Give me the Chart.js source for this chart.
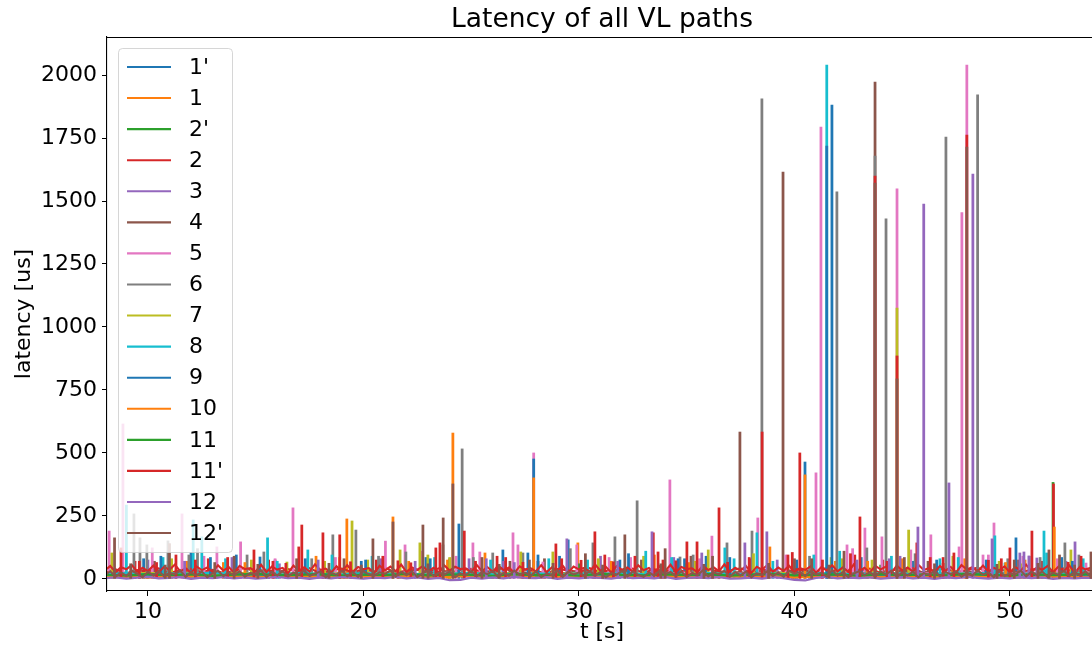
<!DOCTYPE html>
<html>
<head>
<meta charset="utf-8">
<title>Latency of all VL paths</title>
<script src="https://cdn.jsdelivr.net/npm/chart.js@4.4.1/dist/chart.umd.min.js"></script>
<style>
  html, body { margin: 0; padding: 0; background: #ffffff; overflow: hidden; }
  #wrap { width: 1100px; height: 646px; }
</style>
</head>
<body>
<div id="wrap"><canvas id="latencyChart" width="1100" height="646"></canvas></div>
<script>
// sample instants: 1 s, 0.5 s and 0.25 s baselines
const tSlow = [8, 9, 10, 11, 12, 13, 14, 15, 16, 17, 18, 19, 20, 21, 22, 23, 24, 25, 26, 27,
  28, 29, 30, 31, 32, 33, 34, 35, 36, 37, 38, 39, 40, 41, 42, 43, 44, 45, 46, 47,
  48, 49, 50, 51, 52, 53, 54];
const tFast = [8, 8.5, 9, 9.5, 10, 10.5, 11, 11.5, 12, 12.5, 13, 13.5, 14, 14.5, 15, 15.5,
  16, 16.5, 17, 17.5, 18, 18.5, 19, 19.5, 20, 20.5, 21, 21.5, 22, 22.5, 23, 23.5,
  24, 24.5, 25, 25.5, 26, 26.5, 27, 27.5, 28, 28.5, 29, 29.5, 30, 30.5, 31, 31.5,
  32, 32.5, 33, 33.5, 34, 34.5, 35, 35.5, 36, 36.5, 37, 37.5, 38, 38.5, 39, 39.5,
  40, 40.5, 41, 41.5, 42, 42.5, 43, 43.5, 44, 44.5, 45, 45.5, 46, 46.5, 47, 47.5,
  48, 48.5, 49, 49.5, 50, 50.5, 51, 51.5, 52, 52.5, 53, 53.5, 54];
const tDense = [8, 8.25, 8.5, 8.75, 9, 9.25, 9.5, 9.75, 10, 10.25, 10.5, 10.75, 11, 11.25, 11.5, 11.75,
  12, 12.25, 12.5, 12.75, 13, 13.25, 13.5, 13.75, 14, 14.25, 14.5, 14.75, 15, 15.25, 15.5, 15.75,
  16, 16.25, 16.5, 16.75, 17, 17.25, 17.5, 17.75, 18, 18.25, 18.5, 18.75, 19, 19.25, 19.5, 19.75,
  20, 20.25, 20.5, 20.75, 21, 21.25, 21.5, 21.75, 22, 22.25, 22.5, 22.75, 23, 23.25, 23.5, 23.75,
  24, 24.25, 24.5, 24.75, 25, 25.25, 25.5, 25.75, 26, 26.25, 26.5, 26.75, 27, 27.25, 27.5, 27.75,
  28, 28.25, 28.5, 28.75, 29, 29.25, 29.5, 29.75, 30, 30.25, 30.5, 30.75, 31, 31.25, 31.5, 31.75,
  32, 32.25, 32.5, 32.75, 33, 33.25, 33.5, 33.75, 34, 34.25, 34.5, 34.75, 35, 35.25, 35.5, 35.75,
  36, 36.25, 36.5, 36.75, 37, 37.25, 37.5, 37.75, 38, 38.25, 38.5, 38.75, 39, 39.25, 39.5, 39.75,
  40, 40.25, 40.5, 40.75, 41, 41.25, 41.5, 41.75, 42, 42.25, 42.5, 42.75, 43, 43.25, 43.5, 43.75,
  44, 44.25, 44.5, 44.75, 45, 45.25, 45.5, 45.75, 46, 46.25, 46.5, 46.75, 47, 47.25, 47.5, 47.75,
  48, 48.25, 48.5, 48.75, 49, 49.25, 49.5, 49.75, 50, 50.25, 50.5, 50.75, 51, 51.25, 51.5, 51.75,
  52, 52.25, 52.5, 52.75, 53, 53.25, 53.5, 53.75, 54];

const xTickValues = [10, 20, 30, 40, 50];
const yTickValues = [0, 250, 500, 750, 1000, 1250, 1500, 1750, 2000];

// baseline latency (us) of every path
const base1p = [18, 22, 15, 20, 24, 17, 21, 19, 23, 16, 20, 25, 18, 22, 17, 21, 19, 24, 16, 20,
  23, 18, 21, 17, 22, 19, 25, 16, 20, 18, 23, 21, 17, 24, 19, 22, 16, 20, 25, 18, 21, 17, 23, 19, 22, 20, 18];
const base1 = [8, 6, 10, 7, 9, 12, 15, 11, 14, 10, 13, 16, 12, 15, 11, 14, 17, 13, 12, 15,
  11, 14, 16, 12, 15, 13, 11, 14, 17, 12, 15, 13, 16, 11, 14, 12, 15, 13, 16, 12, 14, 11, 15, 13, 16, 12, 14];
const base2p = [14, 17, 12, 16, 19, 13, 15, 18, 12, 16, 14, 19, 13, 17, 15, 12, 18, 14, 16, 13,
  17, 15, 12, 18, 14, 16, 13, 19, 15, 12, 17, 14, 16, 13, 18, 15, 12, 17, 14, 16, 13, 18, 15, 12, 17, 14, 16];
const base2 = [26, 38, 22, 35, 29, 42, 24, 33, 40, 27, 36, 23, 31, 44, 28, 37, 25, 39, 30, 43,
  22, 34, 41, 26, 38, 29, 45, 24, 33, 36, 27, 42, 23, 35, 40, 28, 31, 44, 25, 37,
  30, 22, 39, 34, 27, 43, 26, 36, 32, 41, 24, 38, 29, 45, 23, 35, 40, 27, 33, 42,
  25, 37, 30, 22, 39, 34, 28, 44, 26, 36, 31, 41, 24, 38, 29, 43, 23, 35, 40, 27,
  33, 45, 25, 37, 30, 22, 39, 34, 28, 42, 26, 36, 31];
const base3 = [9, 6, 11, 8, 12, 7, 10, 13, 8, 11, 6, 9, 12, 7, 10, 8, 13, 9, 6, 11,
  8, 12, 7, 10, 9, 13, 6, 11, 8, 12, 7, 10, 9, 6, 12, 8, 11, 7, 13, 9, 10, 6, 12, 8, 11, 9, 7];
const base4 = [18, 30, 12, 26, 21, 34, 15, 28, 23, 11, 32, 19, 25, 14, 29, 22, 35, 17, 27, 13,
  31, 20, 24, 16, 33, 12, 28, 21, 26, 15, 30, 18, 34, 13, 25, 22, 29, 16, 32, 19,
  23, 11, 27, 20, 35, 14, 26, 18, 31, 24, 12, 29, 21, 33, 17, 25, 15, 30, 22, 28,
  13, 34, 19, 26, 16, 31, 23, 11, 27, 20, 32, 14, 25, 18, 35, 21, 29, 12, 24, 17,
  30, 22, 26, 15, 33, 19, 28, 13, 31, 23, 16, 27, 20];
const base5 = [20, 16, 23, 18, 21, 25, 17, 22, 19, 24, 16, 21, 18, 23, 20, 17, 25, 19, 22, 18,
  24, 16, 21, 19, 23, 17, 20, 25, 18, 22, 19, 23, 17, 21, 24, 18, 20, 16, 22, 19, 23, 17, 21, 25, 18, 20, 22];
const base6 = [17, 21, 14, 19, 23, 16, 20, 15, 22, 18, 14, 20, 17, 23, 15, 19, 21, 16, 24, 18,
  15, 22, 17, 20, 14, 19, 23, 16, 21, 18, 20, 15, 22, 17, 19, 24, 16, 21, 15, 18, 22, 17, 20, 14, 19, 21, 17];
const base7 = [21, 18, 24, 19, 22, 17, 25, 20, 18, 23, 19, 22, 17, 24, 20, 18, 21, 25, 19, 23,
  17, 20, 22, 18, 24, 19, 21, 17, 23, 20, 18, 25, 21, 19, 22, 17, 24, 20, 18, 23, 19, 21, 17, 22, 20, 24, 18];
const base8 = [19, 23, 17, 22, 20, 25, 18, 21, 16, 24, 20, 18, 23, 19, 22, 17, 21, 24, 18, 20,
  23, 16, 22, 19, 25, 18, 21, 17, 23, 20, 19, 22, 16, 24, 20, 18, 23, 21, 17, 22, 20, 24, 18, 21, 19, 23, 17];
const base9 = [15, 12, 18, 14, 17, 11, 16, 19, 13, 15, 18, 12, 16, 14, 19, 13, 17, 15, 11, 18,
  14, 16, 12, 19, 15, 13, 17, 14, 18, 12, 16, 19, 13, 15, 17, 11, 18, 14, 16, 13, 19, 15, 12, 17, 14, 16, 18];
const base10 = [6, 9, 5, 8, 11, 7, 10, 6, 9, 12, 8, 5, 10, 7, 11, 6, 9, 12, 7, 10,
  5, 8, 11, 6, 9, 7, 12, 8, 5, 10, 7, 11, 6, 9, 8, 10, 7, 9, 6, 8, 10, 7, 9, 5, 11, 8, 6];
const base11 = [16, 13, 19, 15, 18, 12, 17, 20, 14, 16, 19, 13, 17, 15, 20, 14, 18, 16, 12, 19,
  15, 17, 13, 20, 16, 14, 18, 15, 19, 13, 17, 20, 14, 16, 18, 12, 19, 15, 17, 14, 20, 16, 13, 18, 15, 17, 19];
const base11p = [34, 51, 27, 46, 38, 55, 29, 44, 31, 53, 26, 48, 36, 57, 30, 42, 24, 50, 35, 45,
  28, 54, 33, 47, 25, 52, 39, 43, 30, 56, 27, 49, 37, 44, 23, 53, 32, 46, 29, 58,
  35, 41, 26, 50, 31, 55, 28, 47, 38, 43, 24, 52, 34, 49, 30, 57, 27, 45, 36, 51,
  29, 44, 25, 54, 33, 48, 39, 42, 26, 56, 31, 47, 28, 53, 35, 45, 24, 50, 37, 43,
  30, 55, 27, 46, 33, 52, 25, 49, 38, 44, 28, 57, 32, 48, 26, 51, 36, 45, 29, 54,
  34, 43, 25, 50, 31, 56, 27, 47, 39, 42, 26, 53, 35, 46, 30, 58, 28, 44, 33, 51,
  24, 48, 37, 55, 29, 45, 32, 52, 27, 43, 36, 50, 25, 47, 34, 54, 30, 46, 28, 57,
  31, 44, 26, 52, 38, 49, 24, 53, 33, 45, 29, 56, 35, 43, 27, 51, 32, 48, 25, 55,
  37, 46, 30, 53, 28, 44, 34, 50, 26, 47, 33, 57, 29, 45, 36, 52, 27, 49, 31, 54,
  25, 48, 38, 44, 30];
const base12 = [3, 6, 1, 5, 8, 2, 4, 7, 0, 5, 3, 7, 2, 6, 1, 4, 8, 3, 5, 0,
  6, 2, 7, 4, 1, 5, 3, 8, 2, 6, 0, 4, -5, -4, 5, 1, 6, 2, 8, 4,
  3, 7, 0, 5, 2, 6, 4, 1, 7, 3, 5, 2, 8, 0, 4, 6, 3, 7, 1, 2,
  5, 1, 7, 3, -4, -6, 4, 8, 2, 5, 3, 6, 1, 4, 7, 2, 5, 0, 6, 3,
  8, 4, 1, 5, 2, 7, 3, 6, 0, 4, 2, 5, 3];
const base12p = [16, 30, 9, 25, 12, 33, 20, 7, 28, 14, 31, 10, 24, 18, 34, 8, 27, 13, 29, 6,
  22, 32, 11, 26, 15, 30, 9, 23, 19, 33, 7, 28, 14, 31, 10, 25, 17, 34, 12, 21,
  29, 6, 24, 16, 32, 11, 27, 8, 30, 18, 13, 26, 20, 33, 9, 28, 15, 31, 7, 23,
  34, 12, 25, 17, 29, 6, 22, 14, 32, 10, 27, 19, 31, 8, 24, 13, 33, 16, 26, 11,
  30, 7, 21, 15, 34, 9, 28, 18, 25, 12, 32, 14, 27, 6, 23, 17, 31, 10, 29, 16,
  8, 25, 13, 33, 19, 28, 11, 30, 7, 24, 15, 34, 10, 26, 18, 32, 9, 27, 14, 29,
  6, 22, 16, 31, 12, 25, 8, 33, 20, 28, 11, 30, 17, 24, 9, 34, 13, 27, 7, 21,
  31, 15, 26, 10, 29, 18, 33, 8, 25, 14, 28, 6, 23, 16, 32, 11, 27, 19, 30, 9,
  24, 13, 34, 17, 26, 7, 31, 12, 22, 18, 33, 10, 28, 15, 29, 8, 25, 16, 32, 11,
  27, 14, 30, 9, 21];

// latency peaks [t (s), latency (us)] of every path
const spikes1p = [[9.8, 80], [12.0, 105], [14.1, 95], [15.2, 87], [19.9, 70], [22.9, 85],
  [26.47, 115], [29.5, 155], [31.9, 75], [34.9, 80], [35.9, 90], [40.1, 75], [45.5, 70],
  [50.28, 163], [52.4, 85]];
const spikes1 = [[11.8, 70], [13.5, 65], [17.8, 90], [19.23, 238], [21.37, 246], [23.9, 75],
  [25.64, 103], [29.95, 143], [33.5, 95], [38.86, 127], [41.9, 70], [45.0, 80], [47.9, 80],
  [50.7, 75]];
const spikes2p = [[30.0, 60], [44.0, 55], [52.0, 383]];
const spikes2 = [[9.4, 70], [12.8, 80], [15.6, 75], [17.0, 127], [20.6, 75], [24.0, 80],
  [26.2, 90], [28.1, 70], [31.2, 95], [33.9, 75], [36.5, 282], [38.0, 80], [39.9, 105],
  [42.8, 95], [44.1, 75], [46.9, 85], [51.5, 70], [52.02, 377]];
const spikes3 = [[10.0, 75], [13.9, 85], [16.1, 60], [20.8, 80], [24.9, 80], [26.5, 70],
  [31.0, 90], [34.4, 85], [39.2, 75], [44.9, 90], [52.6, 70]];
const spikes4 = [[10.3, 70], [15.9, 75], [19.1, 80], [26.8, 70], [28.4, 80], [32.9, 75],
  [35.2, 90], [37.47, 583], [39.47, 1615], [40.0, 80], [43.74, 1972], [46.2, 70], [50.4, 75]];
const spikes5 = [[8.2, 190], [8.84, 615], [10.2, 123], [11.58, 258], [12.6, 90], [13.2, 127],
  [14.3, 147], [15.9, 80], [16.73, 282], [18.7, 85], [21.02, 150], [21.93, 135], [22.7, 110],
  [24.3, 90], [25.08, 143], [25.4, 107], [26.94, 183], [27.17, 135], [27.9, 500], [28.33, 67],
  [29.9, 135], [31.4, 85], [32.4, 85], [34.22, 393], [35.6, 80], [36.17, 170], [38.3, 242],
  [39.6, 95], [41.0, 421], [41.23, 1793], [42.44, 135], [42.7, 120], [43.27, 202],
  [44.06, 167], [44.76, 1548], [45.4, 115], [46.33, 175], [47.64, 127], [47.77, 1454],
  [48.0, 2040], [48.75, 95], [49.0, 95], [49.26, 222], [50.6, 90], [52.2, 80], [53.53, 63]];
const spikes6 = [[9.35, 258], [9.63, 163], [9.95, 135], [10.93, 151], [11.9, 95], [12.3, 120],
  [14.6, 95], [15.38, 107], [17.6, 80], [18.58, 175], [19.65, 194], [20.7, 90], [21.97, 107],
  [23.69, 135], [24.58, 516], [25.1, 85], [26.0, 103], [27.4, 103], [29.6, 120], [30.65, 143],
  [31.67, 167], [32.7, 310], [34.69, 87], [35.3, 95], [36.87, 143], [38.03, 190],
  [38.49, 1906], [40.7, 90], [41.97, 1536], [43.36, 123], [43.74, 1678], [44.25, 1429],
  [45.6, 100], [47.03, 1754], [48.5, 1921], [49.9, 80], [50.9, 90], [51.4, 85],
  [52.55, 143], [53.2, 95]];
const spikes7 = [[8.33, 103], [11.1, 80], [14.8, 75], [16.45, 67], [18.2, 70], [19.47, 230],
  [20.2, 75], [21.7, 115], [22.62, 143], [22.99, 95], [24.0, 85], [27.3, 107], [28.79, 107],
  [30.9, 80], [33.0, 90], [35.4, 70], [36.0, 115], [38.1, 100], [41.7, 85], [42.2, 80],
  [43.6, 75], [44.76, 1075], [45.3, 194], [47.35, 90], [49.5, 70], [50.5, 60], [52.83, 115]];
const spikes8 = [[9.0, 293], [10.7, 85], [12.1, 234], [12.5, 167], [13.6, 80], [15.55, 163],
  [16.0, 70], [17.42, 115], [18.54, 95], [20.4, 90], [23.3, 85], [25.9, 75], [28.6, 80],
  [30.4, 75], [33.1, 110], [34.3, 85], [36.77, 123], [37.2, 80], [38.26, 183], [39.0, 70],
  [40.9, 95], [41.5, 2040], [42.1, 110], [44.5, 90], [46.75, 80], [47.6, 85], [49.3, 171],
  [49.77, 63], [51.58, 190], [51.7, 103], [53.4, 80]];
const spikes9 = [[10.6, 90], [12.9, 85], [17.3, 80], [20.1, 75], [23.1, 80], [24.43, 218],
  [27.63, 103], [27.9, 476], [28.1, 95], [29.1, 90], [32.3, 100], [34.6, 80], [37.0, 85],
  [40.49, 464], [41.5, 1718], [41.74, 1881], [43.1, 85], [46.6, 75], [48.9, 75], [52.9, 70]];
const spikes10 = [[14.5, 65], [18.9, 85], [22.1, 70], [24.15, 579], [27.9, 401], [31.5, 70],
  [35.1, 65], [40.49, 413], [43.4, 70], [49.8, 65], [52.06, 206]];
const spikes11 = [[35.0, 60]];
const spikes11p = [[8.75, 123], [9.6, 70], [10.4, 65], [11.3, 95], [12.2, 75], [13.7, 85],
  [14.92, 115], [15.8, 70], [16.4, 62], [17.14, 214], [18.12, 183], [18.9, 175], [19.4, 68],
  [20.9, 90], [21.6, 72], [22.2, 64], [23.36, 123], [23.55, 143], [24.68, 190], [25.2, 70],
  [26.6, 85], [27.4, 66], [28.93, 139], [29.2, 80], [30.1, 74], [30.74, 187], [31.6, 68],
  [32.6, 90], [33.45, 183], [33.67, 107], [34.5, 72], [35.01, 147], [35.48, 147], [36.9, 66],
  [37.9, 85], [38.5, 583], [39.7, 95], [40.25, 500], [41.3, 75], [42.6, 100], [43.04, 246],
  [43.74, 1599], [44.3, 70], [44.76, 885], [45.68, 143], [46.3, 85], [46.9, 62], [47.4, 103],
  [48.0, 1762], [49.0, 74], [49.6, 80], [50.0, 123], [51.02, 190], [52.7, 66], [53.3, 90],
  [53.9, 70]];
const spikes12 = [[11.7, 70], [17.9, 75], [22.4, 70], [25.7, 80], [27.0, 65], [29.44, 159],
  [31.8, 70], [33.39, 187], [35.7, 103], [37.7, 143], [38.72, 187], [42.9, 75], [44.4, 80],
  [45.73, 206], [46.0, 1488], [47.17, 381], [48.28, 1607], [49.17, 159], [50.46, 103],
  [50.65, 107], [50.88, 91], [51.25, 83], [53.02, 147]];
const spikes12p = [[8.45, 163], [9.2, 60], [10.8, 55], [11.0, 140], [13.1, 65], [14.0, 90],
  [15.1, 58], [16.9, 80], [18.4, 62], [19.9, 55], [20.44, 159], [21.37, 226], [22.76, 214],
  [23.0, 60], [23.7, 242], [24.15, 377], [25.5, 85], [26.3, 58], [27.7, 75], [28.8, 62],
  [30.3, 100], [31.1, 55], [32.13, 175], [33.8, 60], [34.0, 120], [35.8, 58], [36.2, 90],
  [38.8, 62], [40.8, 80], [41.6, 55], [42.3, 110], [43.74, 1571], [44.76, 794], [45.1, 85],
  [46.5, 60], [48.0, 1714], [49.4, 58], [50.2, 75], [51.3, 62], [51.81, 115], [52.3, 95],
  [53.0, 55], [53.76, 107]];

const series = [
  { label: "1'", color: "#1f77b4", t: tSlow, base: base1p, spikes: spikes1p },
  { label: "1", color: "#ff7f0e", t: tSlow, base: base1, spikes: spikes1 },
  { label: "2'", color: "#2ca02c", t: tSlow, base: base2p, spikes: spikes2p },
  { label: "2", color: "#d62728", t: tFast, base: base2, spikes: spikes2 },
  { label: "3", color: "#9467bd", t: tSlow, base: base3, spikes: spikes3 },
  { label: "4", color: "#8c564b", t: tFast, base: base4, spikes: spikes4 },
  { label: "5", color: "#e377c2", t: tSlow, base: base5, spikes: spikes5 },
  { label: "6", color: "#7f7f7f", t: tSlow, base: base6, spikes: spikes6 },
  { label: "7", color: "#bcbd22", t: tSlow, base: base7, spikes: spikes7 },
  { label: "8", color: "#17becf", t: tSlow, base: base8, spikes: spikes8 },
  { label: "9", color: "#1f77b4", t: tSlow, base: base9, spikes: spikes9 },
  { label: "10", color: "#ff7f0e", t: tSlow, base: base10, spikes: spikes10 },
  { label: "11", color: "#2ca02c", t: tSlow, base: base11, spikes: spikes11 },
  { label: "11'", color: "#d62728", t: tDense, base: base11p, spikes: spikes11p },
  { label: "12", color: "#9467bd", t: tFast, base: base12, spikes: spikes12 },
  { label: "12'", color: "#8c564b", t: tDense, base: base12p, spikes: spikes12p },
];

const FONT = "'DejaVu Sans', 'Liberation Sans', sans-serif";
const LW = 2.1;

// one line for the baseline and thin bars for the peaks; later paths on top
const datasets = [];
series.forEach((s, i) => {
  datasets.push({
    type: "line",
    label: s.label,
    data: s.base.map((v, k) => ({ x: s.t[k], y: v })),
    borderColor: s.color,
    borderWidth: LW,
    pointRadius: 0,
    tension: 0,
    fill: false,
    order: series.length - i,
  });
  datasets.push({
    type: "bar",
    label: s.label + " peaks",
    data: s.spikes.map(([t, v]) => ({ x: t, y: v })),
    backgroundColor: s.color,
    borderWidth: 0,
    barThickness: LW,
    grouped: false,
    order: series.length - i,
  });
});

// title, top spine and the matplotlib-like legend
const decorPlugin = {
  id: "decor",
  afterDatasetsDraw(chart) {
    const ctx = chart.ctx;
    const area = chart.chartArea;
    ctx.save();

    // top spine
    ctx.strokeStyle = "#000";
    ctx.lineWidth = 1.1;
    ctx.beginPath();
    ctx.moveTo(area.left, area.top + 0.5);
    ctx.lineTo(area.right, area.top + 0.5);
    ctx.stroke();

    // legend frame
    const lx = 118, ly = 48, lw = 114, lh = 504;
    ctx.fillStyle = "rgba(255,255,255,0.8)";
    ctx.strokeStyle = "rgba(204,204,204,0.8)";
    ctx.lineWidth = 1;
    ctx.beginPath();
    ctx.roundRect(lx + 0.5, ly + 0.5, lw, lh, 4);
    ctx.fill();
    ctx.stroke();

    ctx.font = "22px " + FONT;
    ctx.textBaseline = "middle";
    ctx.textAlign = "left";
    series.forEach((s, k) => {
      const y = 67 + k * 31.07;
      ctx.strokeStyle = s.color;
      ctx.lineWidth = LW;
      ctx.beginPath();
      ctx.moveTo(127, y);
      ctx.lineTo(171, y);
      ctx.stroke();
      ctx.fillStyle = "#000";
      ctx.fillText(s.label, 189, y + 1);
    });

    // title centred on the axes
    ctx.font = "26.5px " + FONT;
    ctx.textAlign = "center";
    ctx.fillStyle = "#000";
    ctx.fillText("Latency of all VL paths", (area.left + area.right) / 2, 20);
    ctx.restore();
  },
};

const tickFont = { family: FONT, size: 22 };

new Chart(document.getElementById("latencyChart"), {
  type: "line",
  data: { datasets: datasets },
  plugins: [decorPlugin],
  options: {
    responsive: false,
    animation: false,
    events: [],
    layout: { padding: { top: 37, right: 3, bottom: 0, left: 0 } },
    plugins: {
      legend: { display: false },
      tooltip: { enabled: false },
      title: { display: false },
    },
    scales: {
      x: {
        type: "linear",
        min: 8.1,
        max: 54.04,
        offset: false,
        grid: { display: true, drawOnChartArea: false, drawTicks: true, tickLength: 5, color: "#000", offset: false },
        border: { display: true, color: "#000", width: 1.1 },
        ticks: { font: tickFont, color: "#000", padding: 3, maxRotation: 0, autoSkip: false, callback: (v) => String(v) },
        afterBuildTicks: (scale) => { scale.ticks = xTickValues.map((v) => ({ value: v })); },
        afterFit: (scale) => { scale.height = 55; },
        title: { display: true, text: "t [s]", font: tickFont, color: "#000", padding: { top: 0, bottom: 1 } },
      },
      y: {
        type: "linear",
        min: -48,
        max: 2151,
        grid: { display: true, drawOnChartArea: false, drawTicks: true, tickLength: 5, color: "#000" },
        border: { display: true, color: "#000", width: 1.1 },
        ticks: { font: tickFont, color: "#000", padding: 5, autoSkip: false, callback: (v) => String(v) },
        afterBuildTicks: (scale) => { scale.ticks = yTickValues.map((v) => ({ value: v })); },
        afterFit: (scale) => { scale.width = 107; },
        title: { display: true, text: "latency [us]", font: tickFont, color: "#000", padding: { top: 11, bottom: 0 } },
      },
    },
  },
});
</script>
</body>
</html>
